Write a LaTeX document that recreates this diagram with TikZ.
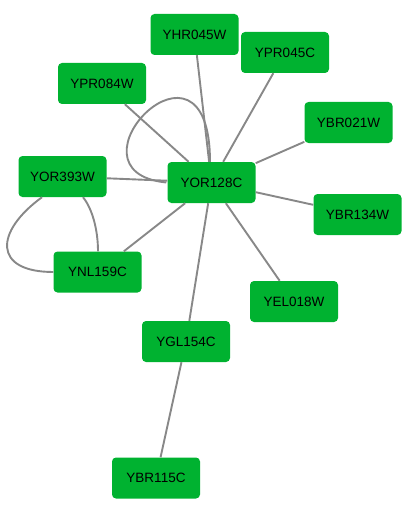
\documentclass[tikz,border=0pt]{standalone}
\usepackage{fontspec}
\setmainfont{Liberation Sans}
\definecolor{nodegreen}{RGB}{0,178,48}
\definecolor{edgegray}{RGB}{136,136,136}
\begin{document}
\begin{tikzpicture}[x=1pt,y=-1pt,
  gene/.style={rectangle, rounded corners=4pt, fill=nodegreen, minimum width=88pt, minimum height=41pt, inner sep=0pt, text=black, font=\fontsize{13.5}{16}\selectfont},
  link/.style={draw=edgegray, line width=1.9pt}]
\useasboundingbox (0,0) rectangle (414,508);
\node[gene] (yhr) at (194.5,34.5) {YHR045W};
\node[gene] (ypr45) at (285,52.5) {YPR045C};
\node[gene] (ypr84) at (102,83.5) {YPR084W};
\node[gene] (ybr21) at (348.5,122.5) {YBR021W};
\node[gene] (yor393) at (62.5,176.5) {YOR393W};
\node[gene] (yor128) at (211.5,182.5) {YOR128C};
\node[gene] (ybr134) at (357.5,214.5) {YBR134W};
\node[gene] (ynl) at (97.5,272) {YNL159C};
\node[gene] (yel) at (294,301.5) {YEL018W};
\node[gene] (ygl) at (186,341.5) {YGL154C};
\node[gene] (ybr115) at (156,478) {YBR115C};
\begin{scope}[every path/.style={link}]
\draw (yor128) -- (yhr);
\draw (yor128) -- (ypr45);
\draw (yor128) -- (ypr84);
\draw (yor128) -- (ybr21);
\draw (yor128) -- (ybr134);
\draw (yor128) -- (yel);
\draw (yor128) -- (ygl);
\draw (yor128) -- (ynl);
\draw (yor128) -- (yor393);
\draw (ygl) -- (ybr115);
\draw ([xshift=-1pt]yor128.west) .. controls +(-110,-11) and +(0,-150) .. ([xshift=-1.5pt]yor128.north);
\draw ([xshift=-20.5pt]yor393.south) .. controls +(-48,35) and +(-60,0) .. (ynl.west);
\draw ([xshift=20.5pt]yor393.south) .. controls +(9,11) and +(0,-22) .. ([xshift=0.5pt]ynl.north);
\end{scope}
\end{tikzpicture}
\end{document}
